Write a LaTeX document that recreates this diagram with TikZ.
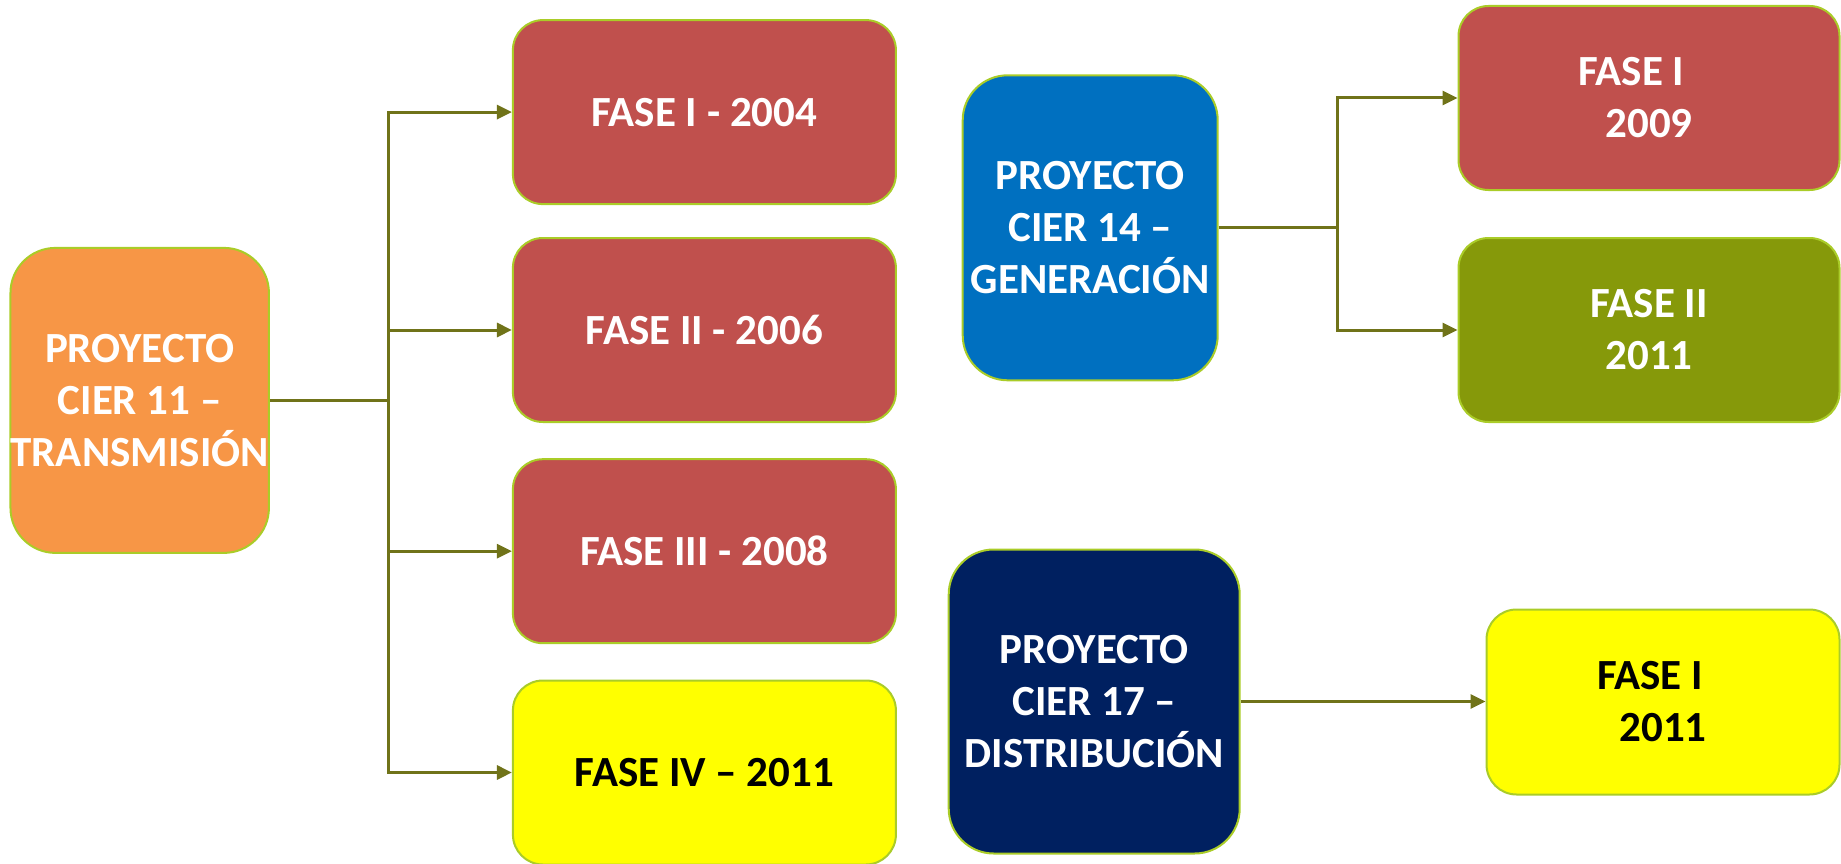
\documentclass[tikz,border=0pt]{standalone}
\usepackage{fontspec}
\setmainfont{Carlito}
\usetikzlibrary{arrows.meta}
\definecolor{orangeF}{RGB}{247,150,70}
\definecolor{redF}{RGB}{192,80,77}
\definecolor{blueF}{RGB}{0,112,192}
\definecolor{greenF}{RGB}{134,153,10}
\definecolor{navyF}{RGB}{0,32,96}
\definecolor{yellowF}{RGB}{255,255,0}
\definecolor{edgeF}{RGB}{170,204,40}
\definecolor{lineF}{RGB}{112,115,25}
\begin{document}
\begin{tikzpicture}[x=1pt,y=-1pt,
  box/.style={draw=edgeF, line width=2pt, rounded corners=30pt, inner sep=0pt, align=center,
              font=\bfseries\fontsize{43}{52}\selectfont},
  proj/.style={box, rounded corners=45pt, text=white},
  fase/.style={box, minimum width=383pt, minimum height=184pt},
  conn/.style={draw=lineF, line width=3pt},
  arr/.style={conn, -{Triangle[length=15pt,width=14pt]}}]
\useasboundingbox (0,0) rectangle (1841,864);

% project boxes
\node[proj, fill=orangeF, minimum width=256pt, minimum height=305pt] (A) at (139.7,400.4)
  {PROYECTO\\CIER 11 –\\TRANSMISIÓN};
\node[proj, fill=blueF, minimum width=255pt, minimum height=305pt] (B) at (1090.2,227.8)
  {PROYECTO\\CIER 14 –\\GENERACIÓN};
\node[proj, fill=navyF, minimum width=291pt, minimum height=304pt] (C) at (1094.2,701.5)
  {PROYECTO\\CIER 17 –\\DISTRIBUCIÓN};

% phase boxes
\node[fase, fill=redF, text=white] (F1) at (704.4,112.1) {FASE I - 2004};
\node[fase, fill=redF, text=white] (F2) at (704.4,330) {FASE II - 2006};
\node[fase, fill=redF, text=white] (F3) at (704.4,551.2) {FASE III - 2008};
\node[fase, fill=yellowF, text=black] (F4) at (704.4,772.5) {FASE IV – 2011};

\node[fase, fill=redF, text=white, minimum width=381pt] (G1) at (1649,98) {FASE I\hspace*{35pt}\\2009};
\node[fase, fill=greenF, text=white, minimum width=381pt] (G2) at (1649,330) {FASE II\\2011};

\node[fase, fill=yellowF, text=black, minimum width=353pt, minimum height=185pt] (D) at (1663,702)
  {FASE I\hspace*{26pt}\\2011};

% connectors
\coordinate (jA) at (388.6,400.4);
\draw[conn] (A.east) -- (jA);
\draw[arr] (jA) |- (F1.west);
\draw[arr] (jA) |- (F2.west);
\draw[arr] (jA) |- (F3.west);
\draw[arr] (jA) |- (F4.west);

\coordinate (jB) at (1337.3,227.8);
\draw[conn] (B.east) -- (jB);
\draw[arr] (jB) |- (G1.west);
\draw[arr] (jB) |- (G2.west);

\draw[arr] (C.east) -- (C.east -| D.west);
\end{tikzpicture}
\end{document}
